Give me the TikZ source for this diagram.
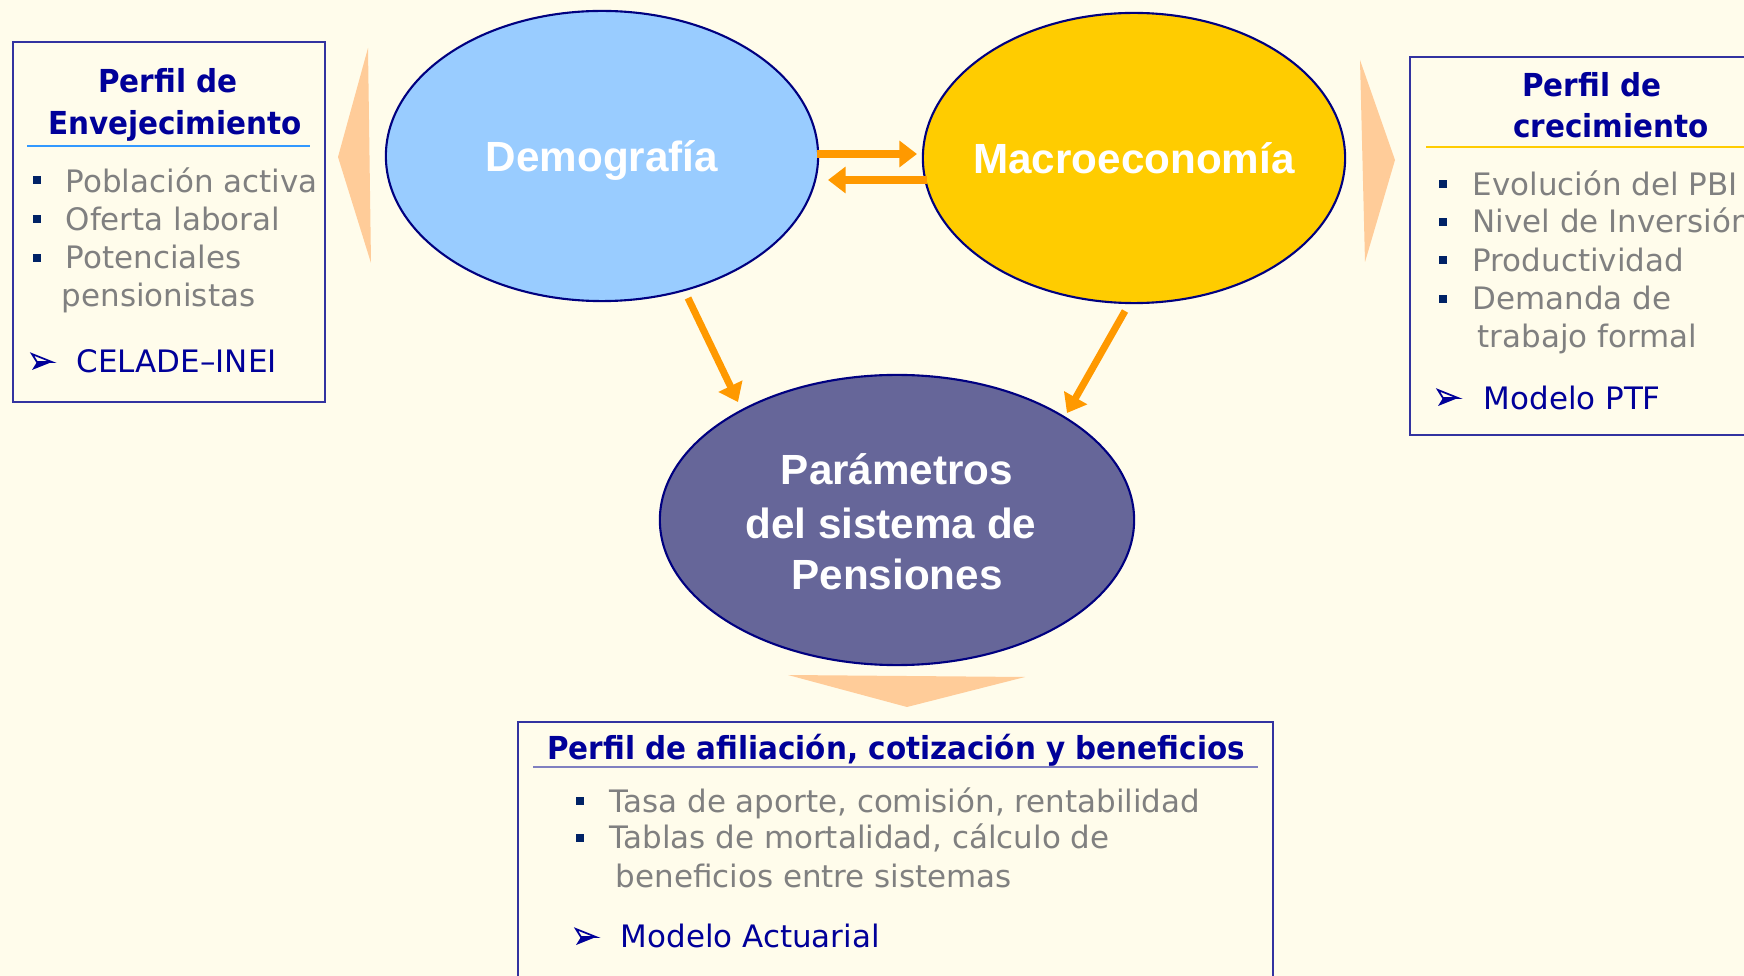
\documentclass[tikz,border=0pt]{standalone}
\usepackage{fontspec}
\setmainfont{DejaVu Sans}
\newfontfamily\titlef{DejaVu Sans}[FakeStretch=0.93]
\newfontfamily\ellf{Liberation Sans}
\usetikzlibrary{shapes.geometric,arrows.meta,calc}
\definecolor{bg}{HTML}{FFFCEB}
\definecolor{navyt}{HTML}{000099}
\definecolor{grayt}{HTML}{808080}
\definecolor{bulc}{HTML}{002266}
\definecolor{boxc}{HTML}{3333A0}
\definecolor{edgec}{HTML}{000080}
\definecolor{democ}{HTML}{99CCFF}
\definecolor{macroc}{HTML}{FFCC00}
\definecolor{paramc}{HTML}{666699}
\definecolor{peach}{HTML}{FFCC99}
\definecolor{orng}{HTML}{FF9900}
\definecolor{ulblue}{HTML}{3399FF}
\definecolor{ulpurp}{HTML}{8080C0}
\begin{document}
\begin{tikzpicture}[x=0.01cm,y=-0.01cm,
  body/.style={anchor=base west, inner sep=0, text=grayt, font=\fontsize{8.8pt}{10.8pt}\selectfont},
  src/.style={anchor=base west, inner sep=0, text=navyt, font=\fontsize{8.8pt}{10.8pt}\selectfont},
  ttl/.style={anchor=base, inner sep=0, text=navyt, font=\titlef\bfseries\fontsize{9pt}{11pt}\selectfont},
  etxt/.style={anchor=base, inner sep=0, text=white, font=\ellf\bfseries\fontsize{12pt}{14.8pt}\selectfont},
  bubble/.style={ellipse, draw=edgec, line width=0.6pt, inner sep=0, outer sep=0},
  panel/.style={draw=boxc, line width=0.6pt, anchor=north west, inner sep=0, outer sep=0},
  oarrow/.style={draw=orng, line width=2pt, -{Triangle[length=5pt,width=7.3pt]}},
  sq/.pic={\fill[bulc] (-4,-4) rectangle (4,4);},
  srcmark/.pic={\fill[navyt] (0,8) -- (20,0) -- (5,0) -- cycle;
                \draw[navyt, line width=0.5pt, line join=miter] (0,-8) -- (20,0) -- (5,0) -- cycle;}
]
\useasboundingbox (0,0) rectangle (1744,976);
\clip (0,0) rectangle (1744,976);
\fill[bg] (0,0) rectangle (1744,976);

% peach pointers
\fill[peach] (368,48) -- (338,157) -- (371,263) -- cycle;
\fill[peach] (1360,60) -- (1395,160) -- (1365,262) -- cycle;
\fill[peach] (788,675) -- (1025,677) -- (907,707) -- cycle;

% ellipses
\node[bubble, fill=democ, minimum width=4.32cm, minimum height=2.90cm] (demo) at (602,156) {};
\node[bubble, fill=macroc, minimum width=4.22cm, minimum height=2.90cm] (macro) at (1134,158) {};
\node[bubble, fill=paramc, minimum width=4.74cm, minimum height=2.90cm] (param) at (897,520) {};
\node[etxt] (demot) at (602,172) {Demografía};
\node[etxt] (macrot) at (1134,174) {Macroeconomía};
\node[etxt] (param1) at (897,485) {Parámetros};
\node[etxt] (param2) at (891,538) {del sistema de};
\node[etxt] (param3) at (897,590) {Pensiones};

% orange connectors
\draw[oarrow] ($(demo.center)+(215,-2)$) -- ($(macro.center)+(-217,-4)$);
\draw[oarrow] ($(macro.center)+(-207,22)$) -- ($(demo.center)+(226,24)$);
\draw[oarrow] ($(demo.center)+(86,142)$) -- ($(param.center)+(-159,-118)$);
\draw[oarrow] ($(macro.center)+(-9,153)$) -- ($(param.center)+(170,-107)$);

% left panel
\node[panel, minimum width=3.12cm, minimum height=3.60cm] (lbox) at (13,42) {};
\node[ttl] (lt1) at (168,93) {Perfil de};
\node[ttl] (lt2) at (175,135) {Envejecimiento};
\draw[ulblue, line width=0.6pt] (27,146) -- (310,146);
\pic at (37,180) {sq}; \pic at (37,219) {sq}; \pic at (37,258) {sq};
\node[body] (l1) at (65,193) {Población activa};
\node[body] (l2) at (65,231) {Oferta laboral};
\node[body] (l3) at (65,269) {Potenciales};
\node[body] (l4) at (61,307) {pensionistas};
\pic at (32,362) {srcmark};
\node[src] (l5) at (76,373) {CELADE–INEI};

% right panel
\node[panel, minimum width=3.60cm, minimum height=3.78cm] (rbox) at (1410,57) {};
\node[ttl] (rt1) at (1592,97) {Perfil de};
\node[ttl] (rt2) at (1611,138) {crecimiento};
\draw[macroc, line width=0.6pt] (1426,147) -- (1760,147);
\pic at (1443,184) {sq}; \pic at (1443,222) {sq}; \pic at (1443,260) {sq}; \pic at (1443,299) {sq};
\node[body] (r1) at (1472,196) {Evolución del PBI};
\node[body] (r2) at (1472,233) {Nivel de Inversión};
\node[body] (r3) at (1472,272) {Productividad};
\node[body] (r4) at (1472,310) {Demanda de};
\node[body] (r5) at (1477,348) {trabajo formal};
\pic at (1438,398) {srcmark};
\node[src] (r6) at (1483,410) {Modelo PTF};

% bottom panel
\node[panel, minimum width=7.55cm, minimum height=2.80cm] (bbox) at (518,722) {};
\node[ttl] (bt) at (896,760) {Perfil de afiliación, cotización y beneficios};
\draw[ulpurp, line width=0.6pt] (533,767) -- (1258,767);
\pic at (580,801) {sq}; \pic at (580,838) {sq};
\node[body] (b1) at (609,812) {Tasa de aporte, comisión, rentabilidad};
\node[body] (b2) at (609,849) {Tablas de mortalidad, cálculo de};
\node[body] (b3) at (615,887) {beneficios entre sistemas};
\pic at (576,937) {srcmark};
\node[src] (b4) at (620,948) {Modelo Actuarial};
\end{tikzpicture}
\end{document}
